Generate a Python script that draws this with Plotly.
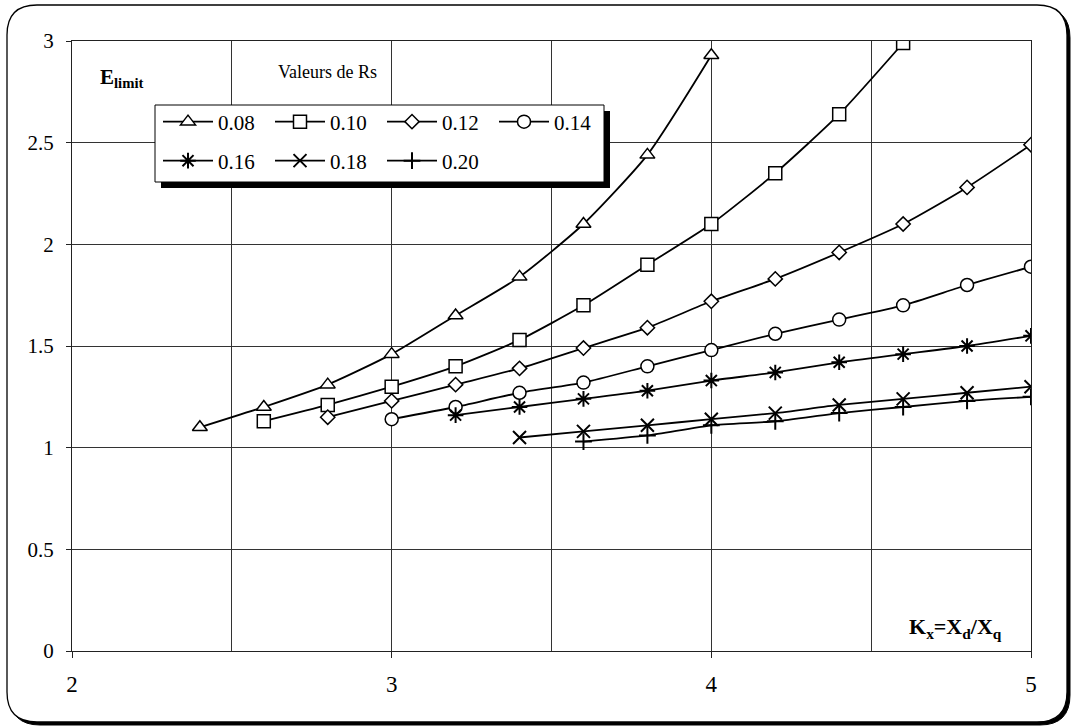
import plotly.graph_objects as go

# Rs values and their curves E_limit = f(Kx)
rs_labels = ["0.08", "0.10", "0.12", "0.14", "0.16", "0.18", "0.20"]

kx_008 = [2.4, 2.6, 2.8, 3.0, 3.2, 3.4, 3.6, 3.8, 4.0]
e_008 = [1.10, 1.20, 1.31, 1.46, 1.65, 1.84, 2.10, 2.44, 2.93]

kx_010 = [2.6, 2.8, 3.0, 3.2, 3.4, 3.6, 3.8, 4.0, 4.2, 4.4, 4.6]
e_010 = [1.13, 1.21, 1.30, 1.40, 1.53, 1.70, 1.90, 2.10, 2.35, 2.64, 2.99]

kx_012 = [2.8, 3.0, 3.2, 3.4, 3.6, 3.8, 4.0, 4.2, 4.4, 4.6, 4.8, 5.0]
e_012 = [1.15, 1.23, 1.31, 1.39, 1.49, 1.59, 1.72, 1.83, 1.96, 2.10, 2.28, 2.49]

kx_014 = [3.0, 3.2, 3.4, 3.6, 3.8, 4.0, 4.2, 4.4, 4.6, 4.8, 5.0]
e_014 = [1.14, 1.20, 1.27, 1.32, 1.40, 1.48, 1.56, 1.63, 1.70, 1.80, 1.89]

kx_016 = [3.2, 3.4, 3.6, 3.8, 4.0, 4.2, 4.4, 4.6, 4.8, 5.0]
e_016 = [1.16, 1.20, 1.24, 1.28, 1.33, 1.37, 1.42, 1.46, 1.50, 1.55]

kx_018 = [3.4, 3.6, 3.8, 4.0, 4.2, 4.4, 4.6, 4.8, 5.0]
e_018 = [1.05, 1.08, 1.11, 1.14, 1.17, 1.21, 1.24, 1.27, 1.30]

kx_020 = [3.6, 3.8, 4.0, 4.2, 4.4, 4.6, 4.8, 5.0]
e_020 = [1.03, 1.06, 1.11, 1.13, 1.17, 1.20, 1.23, 1.25]

x_ticks = [2, 3, 4, 5]
y_ticks = [0, 0.5, 1, 1.5, 2, 2.5, 3]
y_ticktext = ["0", "0.5", "1", "1.5", "2", "2.5", "3"]

series_x = [kx_008, kx_010, kx_012, kx_014, kx_016, kx_018, kx_020]
series_y = [e_008, e_010, e_012, e_014, e_016, e_018, e_020]

# marker style per curve
symbols = ["triangle-up", "square", "diamond", "circle",
           "asterisk-open", "x-thin-open", "cross-thin-open"]
sizes = [13, 13, 11, 13, 13, 13, 12]

W, H = 1073, 728
ML, MR, MT, MB = 72, 42, 41, 77
PW, PH = W - ML - MR, H - MT - MB
FONT = "Times New Roman, Tinos, DejaVu Serif, serif"


def px(x):
    return (x - ML) / PW


def py(y):
    return (H - MB - y) / PH


def rounded_rect(x0, y0, x1, y1, r):
    # rounded rectangle in pixel space, converted to paper coordinates
    pts = [
        f"M {px(x0 + r)},{py(y0)}",
        f"L {px(x1 - r)},{py(y0)}",
        f"Q {px(x1)},{py(y0)} {px(x1)},{py(y0 + r)}",
        f"L {px(x1)},{py(y1 - r)}",
        f"Q {px(x1)},{py(y1)} {px(x1 - r)},{py(y1)}",
        f"L {px(x0 + r)},{py(y1)}",
        f"Q {px(x0)},{py(y1)} {px(x0)},{py(y1 - r)}",
        f"L {px(x0)},{py(y0 + r)}",
        f"Q {px(x0)},{py(y0)} {px(x0 + r)},{py(y0)}",
        "Z",
    ]
    return " ".join(pts)


fig = go.Figure()

for i, name in enumerate(rs_labels):
    open_sym = symbols[i].endswith("-open")
    fig.add_trace(go.Scatter(
        x=series_x[i], y=series_y[i], name=name,
        mode="lines+markers",
        line=dict(color="black", width=1.8, shape="spline", smoothing=0.6),
        marker=dict(symbol=symbols[i], size=sizes[i],
                    color="black" if open_sym else "white",
                    line=dict(color="black", width=2 if open_sym else 1.5)),
        legend="legend" if i < 4 else "legend2",
    ))

shapes = [
    # chart frame with its drop shadow
    dict(type="path", xref="paper", yref="paper", layer="below",
         path=rounded_rect(10, 8, 1070, 725, 30),
         fillcolor="black", line=dict(color="black", width=1)),
    dict(type="path", xref="paper", yref="paper", layer="below",
         path=rounded_rect(7, 5, 1067, 722, 30),
         fillcolor="white", line=dict(color="black", width=1.3)),
    # legend box with its shadow
    dict(type="rect", xref="paper", yref="paper", layer="above",
         x0=px(161), x1=px(610), y0=py(188), y1=py(111),
         fillcolor="black", line=dict(width=0)),
    dict(type="rect", xref="paper", yref="paper", layer="above",
         x0=px(155), x1=px(604), y0=py(182), y1=py(105),
         fillcolor="white", line=dict(color="black", width=1)),
]

annotations = [
    dict(text="<b>E<sub>limit</sub></b>", xref="paper", yref="paper",
         x=px(98), y=py(78), xanchor="left", yanchor="middle", showarrow=False,
         font=dict(family=FONT, size=21, color="black")),
    dict(text="Valeurs de Rs", xref="paper", yref="paper",
         x=px(276), y=py(72), xanchor="left", yanchor="middle", showarrow=False,
         font=dict(family=FONT, size=18, color="black")),
    dict(text="<b>K<sub>x</sub>=X<sub>d</sub>/X<sub>q</sub></b>", xref="paper", yref="paper",
         x=px(1004), y=py(628), xanchor="right", yanchor="middle", showarrow=False,
         font=dict(family=FONT, size=22, color="black")),
]

legend_style = dict(
    orientation="h", xref="paper", yref="paper",
    xanchor="left", yanchor="middle",
    bgcolor="rgba(0,0,0,0)", borderwidth=0,
    itemwidth=50, entrywidth=47, entrywidthmode="pixels",
    font=dict(family=FONT, size=21, color="black"),
    itemclick=False, itemdoubleclick=False,
)

fig.update_layout(
    width=W, height=H,
    margin=dict(l=ML, r=MR, t=MT, b=MB),
    paper_bgcolor="white", plot_bgcolor="white",
    font=dict(family=FONT, size=20, color="black"),
    showlegend=True,
    legend=dict(legend_style, x=px(158), y=py(122)),
    legend2=dict(legend_style, x=px(158), y=py(161)),
    shapes=shapes,
    annotations=annotations,
    xaxis=dict(
        range=[2, 5], tickvals=x_ticks, ticktext=[str(v) for v in x_ticks],
        showgrid=True, gridcolor="#333", gridwidth=1,
        minor=dict(dtick=0.5, showgrid=True, gridcolor="#333", gridwidth=1),
        showline=True, linecolor="#222", linewidth=1, mirror=True,
        ticks="outside", ticklen=6, tickcolor="#222",
        ticklabelstandoff=6, zeroline=False,
        tickfont=dict(family=FONT, size=23, color="black"),
    ),
    yaxis=dict(
        range=[0, 3], tickvals=y_ticks, ticktext=y_ticktext,
        showgrid=True, gridcolor="#333", gridwidth=1,
        showline=True, linecolor="#222", linewidth=1, mirror=True,
        ticks="outside", ticklen=5, tickcolor="#222",
        ticklabelstandoff=8, zeroline=False,
        tickfont=dict(family=FONT, size=21, color="black"),
    ),
)

fig.write_html("out.html")
